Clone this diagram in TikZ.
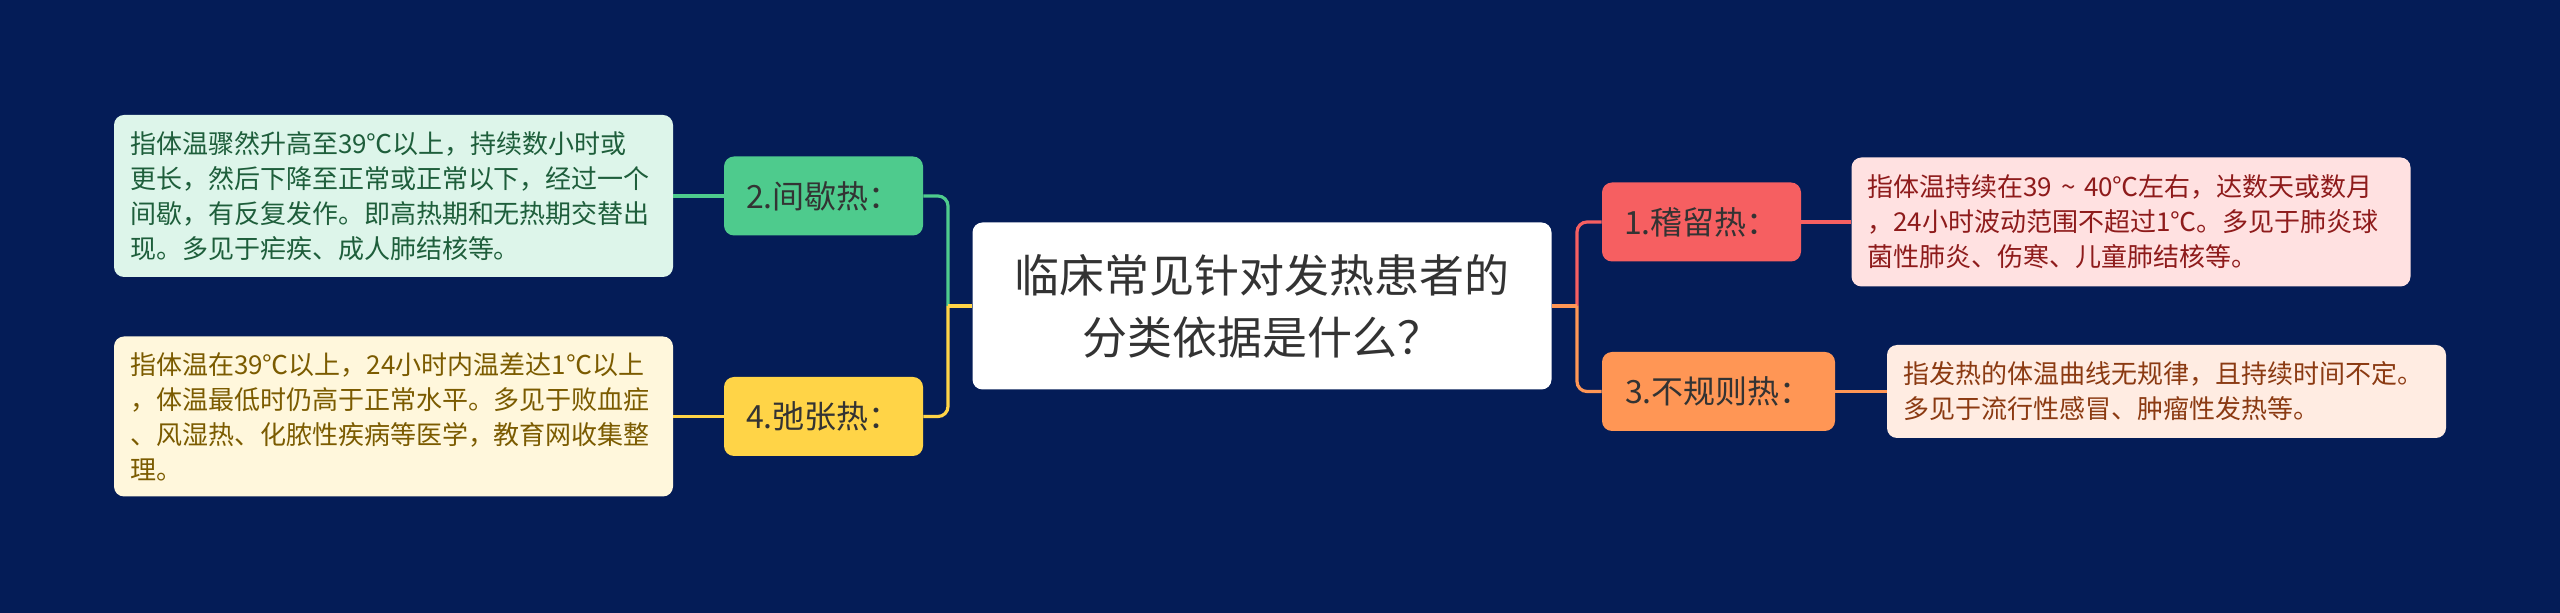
\documentclass[tikz,border=0pt]{standalone}
\usepackage{fontspec}
\newfontfamily\cjk{Noto Sans CJK SC}
\definecolor{bg}{HTML}{041C57}
\definecolor{cGreen}{HTML}{4ECB8D}
\definecolor{cYellow}{HTML}{FFD447}
\definecolor{cRed}{HTML}{F65F61}
\definecolor{cOrange}{HTML}{FF9655}
\definecolor{lGreen}{HTML}{DDF5EA}
\definecolor{lYellow}{HTML}{FFF7DC}
\definecolor{lRed}{HTML}{FFE1E1}
\definecolor{lOrange}{HTML}{FFECE2}
\definecolor{tGreen}{HTML}{1E5E3B}
\definecolor{tYellow}{HTML}{7B5B00}
\definecolor{tRed}{HTML}{8E1B1B}
\definecolor{tOrange}{HTML}{8B3A12}

\begin{document}
\begin{tikzpicture}[x=0.5pt,y=-0.5pt,
    every node/.style={inner sep=0pt},
    title/.style={fill=white,rounded corners=5pt,minimum width=289.5pt,
      minimum height=83.5pt,align=center,text=black!80,
      font=\cjk\fontsize{22.5}{31}\selectfont},
    branch/.style={rounded corners=5pt,minimum height=39.5pt,
      minimum width=99.5pt,text=black!80,
      font=\cjk\fontsize{16}{20}\selectfont},
    note/.style={rounded corners=5pt,align=left,text width=263.5pt,
      inner xsep=8pt,font=\cjk\fontsize{13}{17.5}\selectfont},
    link/.style={line width=1.6pt,rounded corners=5pt}]

  \fill[bg] (0,0) rectangle (2560,613);

  \node[title] (q) at (1262,306) {临床常见针对发热患者的\\分类依据是什么？};

  \node[branch,fill=cRed] (b1) at (1701.5,222) {1.稽留热：};
  \node[branch,fill=cGreen] (b2) at (823.5,196) {2.间歇热：};
  \node[branch,fill=cOrange,minimum width=116.5pt] (b3) at (1718.5,391.5) {3.不规则热：};
  \node[branch,fill=cYellow] (b4) at (823.5,416.5) {4.弛张热：};

  \node[note,fill=lRed,text=tRed,minimum height=64.5pt] (t1) at (2131,222)
    {指体温持续在39 \textasciitilde{} 40℃左右，达数天或数月\\，24小时波动范围不超过1℃。多见于肺炎球\\菌性肺炎、伤寒、儿童肺结核等。};
  \node[note,fill=lGreen,text=tGreen,minimum height=81pt] (t2) at (393.5,196)
    {指体温骤然升高至39℃以上，持续数小时或\\更长，然后下降至正常或正常以下，经过一个\\间歇，有反复发作。即高热期和无热期交替出\\现。多见于疟疾、成人肺结核等。};
  \node[note,fill=lOrange,text=tOrange,minimum height=46.5pt] (t3) at (2166.5,391.5)
    {指发热的体温曲线无规律，且持续时间不定。\\多见于流行性感冒、肿瘤性发热等。};
  \node[note,fill=lYellow,text=tYellow,minimum height=80pt] (t4) at (393.5,416.5)
    {指体温在39℃以上，24小时内温差达1℃以上\\，体温最低时仍高于正常水平。多见于败血症\\、风湿热、化脓性疾病等医学，教育网收集整\\理。};

  \coordinate (jl) at (948,306);
  \coordinate (jr) at (1577,306);

  \draw[link,cGreen] (jl) |- (b2.east);
  \draw[link,cYellow] (jl) |- (b4.east);
  \draw[link,cYellow] (q.west) -- (jl);
  \draw[link,cRed] (jr) |- (b1.west);
  \draw[link,cOrange] (jr) |- (b3.west);
  \draw[link,cOrange] (q.east) -- (jr);

  \draw[link,cGreen] (b2.west) -- (t2.east);
  \draw[link,cYellow] (b4.west) -- (t4.east);
  \draw[link,cRed] (b1.east) -- (t1.west);
  \draw[link,cOrange] (b3.east) -- (t3.west);

\end{tikzpicture}
\end{document}
